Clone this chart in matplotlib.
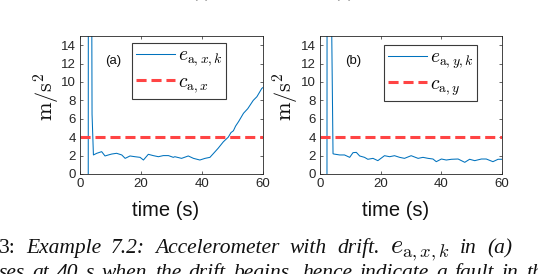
import numpy as np
import matplotlib
matplotlib.use('Agg')
import matplotlib.pyplot as plt
from matplotlib import rcParams

rcParams['mathtext.fontset'] = 'cm'
rcParams['font.family'] = ['Liberation Sans', 'DejaVu Sans']

#########
# Data  #
#########
# (a) x-axis accelerometer residual
t_a = [2.7, 2.75, 3.75, 3.95, 4.4, 5.5, 7.1, 8.2, 9.3, 10.4, 12.0, 13.7, 14.8,
       16.4, 18.0, 19.7, 20.8, 22.4, 24.0, 25.7, 27.3, 29.0, 30.6, 31.1, 33.3,
       35.5, 37.2, 39.3, 41.0, 42.6, 44.3, 45.3, 47.0, 48.6, 49.5, 50.3, 51.0,
       52.0, 53.6, 55.0, 56.8, 58.0, 59.6, 60.0]
e_a = [-2, 30, 30, 6.5, 2.07, 2.25, 2.43, 1.96, 2.07, 2.17, 2.25, 2.07, 1.7,
       1.96, 1.88, 1.81, 1.52, 2.14, 2.0, 1.88, 2.0, 2.0, 1.81, 1.88, 1.7,
       1.96, 1.7, 1.52, 1.7, 1.81, 2.43, 2.8, 3.5, 4.0, 4.5, 4.7, 5.2,
       5.7, 6.6, 7.1, 8.0, 8.4, 9.3, 9.4]
c_a = 4.0

# (b) y-axis accelerometer residual
t_b = [2.3, 2.35, 3.4, 4.3, 4.6, 6.5, 8.1, 9.8, 10.9, 12.0, 13.1, 14.7, 15.8,
       17.5, 19.1, 21.3, 23.0, 24.6, 26.3, 27.9, 30.1, 32.4, 34.0, 35.7, 37.3,
       38.4, 40.1, 41.7, 43.4, 45.6, 47.8, 49.4, 51.1, 53.3, 54.9, 57.1, 58.8,
       60.0]
e_b = [-2, 30, 30, 2.2, 2.17, 2.07, 2.07, 1.81, 2.32, 2.35, 1.96, 1.81, 1.6,
       1.7, 1.45, 1.99, 1.88, 1.99, 1.81, 1.7, 1.99, 1.7, 1.81, 1.7, 1.63,
       1.34, 1.63, 1.52, 1.6, 1.63, 1.27, 1.6, 1.45, 1.63, 1.63, 1.34, 1.6,
       1.6]
c_b = 4.0

panel_tags = ['(a)', '(b)']
res_labels = [r'$e_{\mathrm{a},x,k}$', r'$e_{\mathrm{a},y,k}$']
thr_labels = [r'$c_{\mathrm{a},x}$', r'$c_{\mathrm{a},y}$']

xticks = [0, 20, 40, 60]
yticks = [0, 2, 4, 6, 8, 10, 12, 14]

blue = '#0072BD'
red = '#FF4444'
axcol = '#262626'

W, H = 538, 274
fig = plt.figure(figsize=(W / 100, H / 100), dpi=100)

# axes boxes in pixels: (left, right, top, bottom)
boxes = [(80, 263, 36, 174), (320, 501.7, 36, 174)]
legend_tl = [(132, 43), (384, 45)]
xlab_cx = [166, 396]
ylab_cx = [47, 286]

series = [(t_a, e_a, c_a), (t_b, e_b, c_b)]

for ii, (t, e, c) in enumerate(series):
    l, r, tp, b = boxes[ii]
    ax = fig.add_axes([l / W, 1 - b / H, (r - l) / W, (b - tp) / H])
    ax.plot(t, e, color=blue, lw=0.75, label=res_labels[ii])
    ax.axhline(c, color=red, lw=2.2, dashes=(3.3, 1.6), label=thr_labels[ii])
    ax.set_xlim(0, 60)
    ax.set_ylim(0, 15)
    ax.set_xticks(xticks)
    ax.set_yticks(yticks)
    ax.tick_params(direction='in', length=2.5, width=0.5, colors=axcol,
                   labelsize=9.5, top=True, right=True, pad=3)
    for sp in ax.spines.values():
        sp.set_color(axcol)
        sp.set_linewidth(0.6)

    # panel tag
    ax.text(11, 12.3, panel_tags[ii], fontsize=9.5, color='#111111',
            ha='center', va='center')

    # legend
    lx, ly = legend_tl[ii]
    leg = ax.legend(loc='upper left',
                    bbox_to_anchor=((lx - l) / (r - l), (b - ly) / (b - tp)),
                    borderaxespad=0, fancybox=False, framealpha=1,
                    edgecolor='#3a3a3a', fontsize=14, handlelength=2.0,
                    handletextpad=0.15, borderpad=0.2, labelspacing=0.25)
    leg.get_frame().set_linewidth(0.8)

    # axis labels
    fig.text(xlab_cx[ii] / W, 1 - 210 / H, 'time (s)', fontsize=14.5,
             ha='center', va='center', color='#111111')
    fig.text(ylab_cx[ii] / W, 1 - 97 / H, r'$\mathrm{m/s^2}$', fontsize=16,
             rotation=90, ha='center', va='center', color='#111111')

# cut off subplot captions at very top
for cx, tag in zip([201, 344], panel_tags):
    fig.text(cx / W, 1 + 3.5 / H, tag, fontsize=13, family='Liberation Serif',
             ha='center', va='baseline', color='#555555')

#################
# Caption lines #
#################
renderer = fig.canvas.get_renderer()


def justify(words, x0, x1, ybase, styles):
    texts = []
    widths = []
    for w, st in zip(words, styles):
        fs = 19 if w.startswith('$') else 15.5
        tt = fig.text(0, ybase / H, w, fontsize=fs, family='Liberation Serif',
                      style=st, va='baseline', ha='left', color='#111111')
        widths.append(tt.get_window_extent(renderer).width)
        texts.append(tt)
    gap = (x1 - x0 - sum(widths)) / (len(words) - 1)
    x = x0
    for tt, wd in zip(texts, widths):
        tt.set_x(x / W)
        x += wd + gap


line1 = ['3:', 'Example', '7.2:', 'Accelerometer', 'with', 'drift.',
         r'$e_{\mathrm{a},x,k}$', 'in', '(a)']
styles1 = ['normal'] + ['italic'] * 8
justify(line1, -1, 512, H - 253, styles1)

line2 = 'ses at 40 s when the drift begins, hence indicate a fault in the'.split()
justify(line2, -1, 552, H - 278, ['italic'] * len(line2))

fig.savefig('out.png', dpi=100)
